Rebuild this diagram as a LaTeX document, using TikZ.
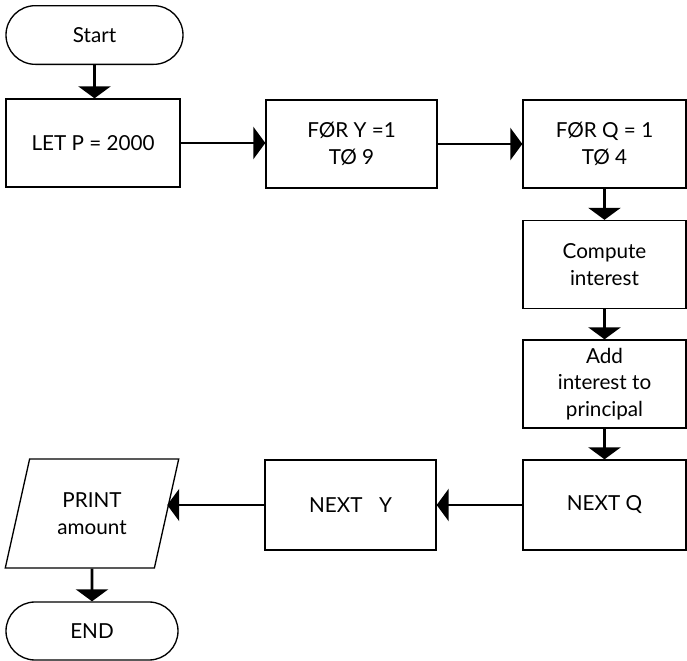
\documentclass[tikz,border=0pt]{standalone}
\usepackage{fontspec}
\setmainfont{Lato}
\usetikzlibrary{arrows.meta,shapes.geometric,shapes.misc}
\tikzset{
    box/.style={draw,line width=1pt,minimum width=#1,minimum height=66pt,
        align=center,inner sep=0pt,font=\fontsize{15.5}{20}\selectfont},
    term/.style={draw,line width=1pt,rounded rectangle,minimum width=#1,
        minimum height=44pt,inner sep=0pt,font=\fontsize{15.5}{20}\selectfont},
    io/.style={draw,line width=1pt,trapezium,trapezium left angle=72,
        trapezium right angle=108,trapezium stretches=true,minimum width=130.5pt,
        minimum height=81.75pt,inner sep=0pt,align=center,
        font=\fontsize{15.5}{20}\selectfont},
    flow/.style={line width=2pt,-{Triangle[width=24pt,length=9pt]}}
}
\begin{document}
\begin{tikzpicture}[x=0.75pt,y=-0.75pt]
    \useasboundingbox (0,0) rectangle (687,661);

    \node[term=132.75pt] (start) at (94.5,35) {Start};
    \node[box=130.5pt] (let) at (93,143) {LET P = 2000};
    \node[box=128.25pt] (fory) at (351.5,144) {FØR Y =1\\TØ 9};
    \node[box=122.25pt] (forq) at (604.5,144) {FØR Q = 1\\TØ 4};
    \node[box=122.25pt] (comp) at (604.5,264.5) {Compute\\interest};
    \node[box=122.25pt] (add) at (604.5,384) {Add\\interest to\\principal};
    \node[box=122.25pt,minimum height=67.5pt] (nextq) at (604.5,505) {NEXT Q};
    \node[box=128.25pt,minimum height=67.5pt] (nexty) at (350.5,505) {NEXT\hspace{0.8em}Y};
    \node[io] (print) at (92,513.5) {PRINT\\amount};
    \node[term=129pt,minimum height=43.5pt] (endn) at (92,631) {END};

    \draw[flow] (start.south) -- (start.south |- let.north);
    \draw[flow] (let.east) -- (let.east -| fory.west);
    \draw[flow] (fory.east) -- (fory.east -| forq.west);
    \draw[flow] (forq) -- (comp);
    \draw[flow] (comp) -- (add);
    \draw[flow] (add) -- (nextq);
    \draw[flow] (nextq) -- (nexty);
    \draw[flow] (nexty.west) -- (nexty.west -| print.east);
    \draw[flow] (print) -- (endn);
\end{tikzpicture}
\end{document}
